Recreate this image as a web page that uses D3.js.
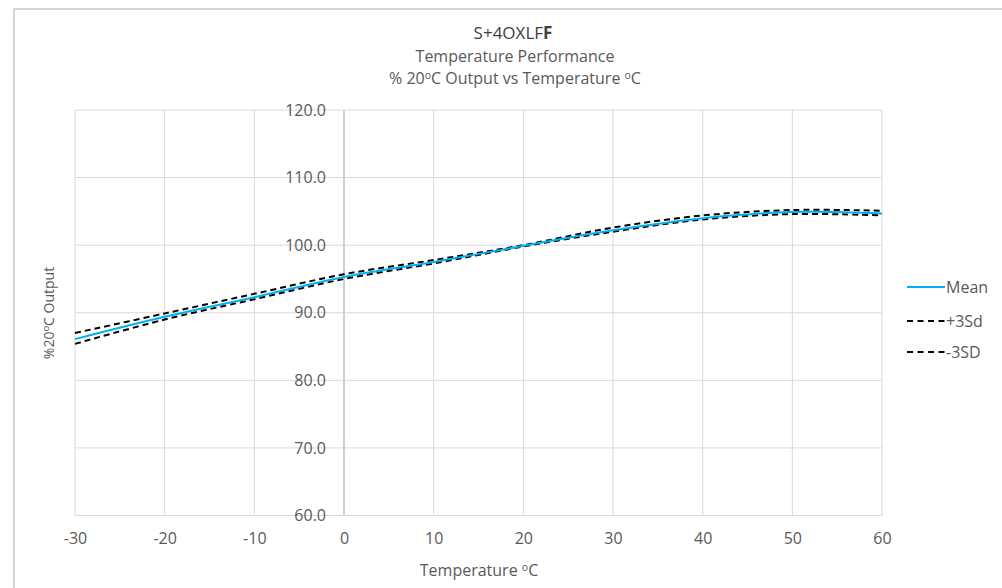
<!DOCTYPE html>
<html><head><meta charset="utf-8">
<script src="https://cdn.jsdelivr.net/npm/d3@7"></script>
<style>body{margin:0;background:#fff}svg{display:block;font-family:"Open Sans","Liberation Sans",Arial,sans-serif}</style>
</head><body><svg id="c" width="1002" height="588"></svg>
<script>
const temps = [-30, -20, -10, 0, 10, 20, 30, 40, 50, 60];
const meanVals = [86.1, 89.4, 92.3, 95.3, 97.5, 99.9, 102.2, 104.0, 104.9, 104.7];
const plusVals = [87.0, 89.9, 92.8, 95.7, 97.8, 100.0, 102.6, 104.4, 105.2, 105.1];
const minusVals = [85.4, 89.0, 92.0, 95.0, 97.3, 99.8, 102.0, 103.8, 104.6, 104.4];
const xTicks = [-30, -20, -10, 0, 10, 20, 30, 40, 50, 60];
const yTicks = [60, 70, 80, 90, 100, 110, 120];
const seriesNames = ["Mean", "+3Sd", "-3SD"];

const svg = d3.select("#c");
const L = 75, R = 882, T = 110, B = 515.5;
const x = d3.scaleLinear().domain([-30, 60]).range([L, R]);
const y = d3.scaleLinear().domain([60, 120]).range([B, T]);
const txt = "#595959";
const FF = "Open Sans, Liberation Sans, Arial, sans-serif";

// outer frame
svg.append("rect").attr("x", 14).attr("y", 9).attr("width", 1002).attr("height", 600)
  .attr("fill", "none").attr("stroke", "#c9c9c9").attr("stroke-width", 1.5);

// gridlines
svg.append("g").selectAll("line").data(yTicks).join("line")
  .attr("x1", L).attr("x2", R).attr("y1", d => y(d)).attr("y2", d => y(d))
  .attr("stroke", "#d9d9d9").attr("stroke-width", 1);
svg.append("g").selectAll("line").data(xTicks).join("line")
  .attr("y1", T).attr("y2", B).attr("x1", d => x(d)).attr("x2", d => x(d))
  .attr("stroke", "#d9d9d9").attr("stroke-width", 1);
// y axis at 0
svg.append("line").attr("x1", x(0)).attr("x2", x(0)).attr("y1", T).attr("y2", B)
  .attr("stroke", "#bfbfbf").attr("stroke-width", 1.2);

// x tick labels
const xAxis = d3.axisBottom(x).tickValues(xTicks).tickSize(0).tickPadding(0).tickFormat(d => String(d));
const gx = svg.append("g").attr("transform", `translate(0,${B + 17})`).call(xAxis);
gx.select(".domain").remove();
gx.selectAll("text").attr("fill", txt).attr("font-size", 16).attr("font-family", FF);

// y tick labels
const yAxis = d3.axisLeft(y).tickValues(yTicks).tickSize(0).tickPadding(0).tickFormat(d3.format(".1f"));
const gy = svg.append("g").attr("transform", `translate(${x(0) - 18},0)`).call(yAxis);
gy.select(".domain").remove();
gy.selectAll("text").attr("fill", txt).attr("font-size", 16).attr("font-family", FF);

// lines
const line = d3.line().x((d, i) => x(temps[i])).y(d => y(d)).curve(d3.curveCatmullRom.alpha(0.5));
svg.append("path").datum(plusVals).attr("d", line).attr("fill", "none")
  .attr("stroke", "#000").attr("stroke-width", 2).attr("stroke-dasharray", "6,4");
svg.append("path").datum(minusVals).attr("d", line).attr("fill", "none")
  .attr("stroke", "#000").attr("stroke-width", 2).attr("stroke-dasharray", "6,4");
svg.append("path").datum(meanVals).attr("d", line).attr("fill", "none")
  .attr("stroke", "#00b0f0").attr("stroke-width", 2);

// legend
const leg = [{n: seriesNames[0], c: "#00b0f0", dash: null, y: 287},
             {n: seriesNames[1], c: "#000", dash: "6,4.5", y: 321},
             {n: seriesNames[2], c: "#000", dash: "6,4.5", y: 352}];
const lg = svg.append("g");
leg.forEach(d => {
  lg.append("line").attr("x1", 907).attr("x2", 945).attr("y1", d.y).attr("y2", d.y)
    .attr("stroke", d.c).attr("stroke-width", 2).attr("stroke-dasharray", d.dash);
  lg.append("text").attr("x", 946).attr("y", d.y + 6).attr("fill", txt).attr("font-size", 16).text(d.n);
});

// titles
const t1 = svg.append("text").attr("x", 513).attr("y", 39).attr("text-anchor", "middle")
  .attr("font-size", 17).attr("fill", "#404040");
t1.append("tspan").text("S+4OXLF");
t1.append("tspan").attr("font-weight", "bold").text("F");
svg.append("text").attr("x", 515).attr("y", 62).attr("text-anchor", "middle")
  .attr("font-size", 16).attr("fill", txt).text("Temperature Performance");
const t3 = svg.append("text").attr("x", 515).attr("y", 84).attr("text-anchor", "middle")
  .attr("font-size", 16).attr("fill", txt);
t3.append("tspan").text("% 20");
t3.append("tspan").attr("font-size", 10.5).attr("dy", -5).text("o");
t3.append("tspan").attr("dy", 5).text("C Output vs Temperature ");
t3.append("tspan").attr("font-size", 10.5).attr("dy", -5).text("o");
t3.append("tspan").attr("dy", 5).text("C");

// x axis title
const xt = svg.append("text").attr("x", 479).attr("y", 576).attr("text-anchor", "middle")
  .attr("font-size", 16).attr("fill", txt);
xt.append("tspan").text("Temperature ");
xt.append("tspan").attr("font-size", 10.5).attr("dy", -5).text("o");
xt.append("tspan").attr("dy", 5).text("C");

// y axis title
const yt = svg.append("text").attr("transform", `translate(54,313) rotate(-90)`).attr("text-anchor", "middle")
  .attr("font-size", 14).attr("fill", txt);
yt.append("tspan").text("%20");
yt.append("tspan").attr("font-size", 9.5).attr("dy", -5).text("o");
yt.append("tspan").attr("dy", 5).text("C Output");
</script></body></html>
